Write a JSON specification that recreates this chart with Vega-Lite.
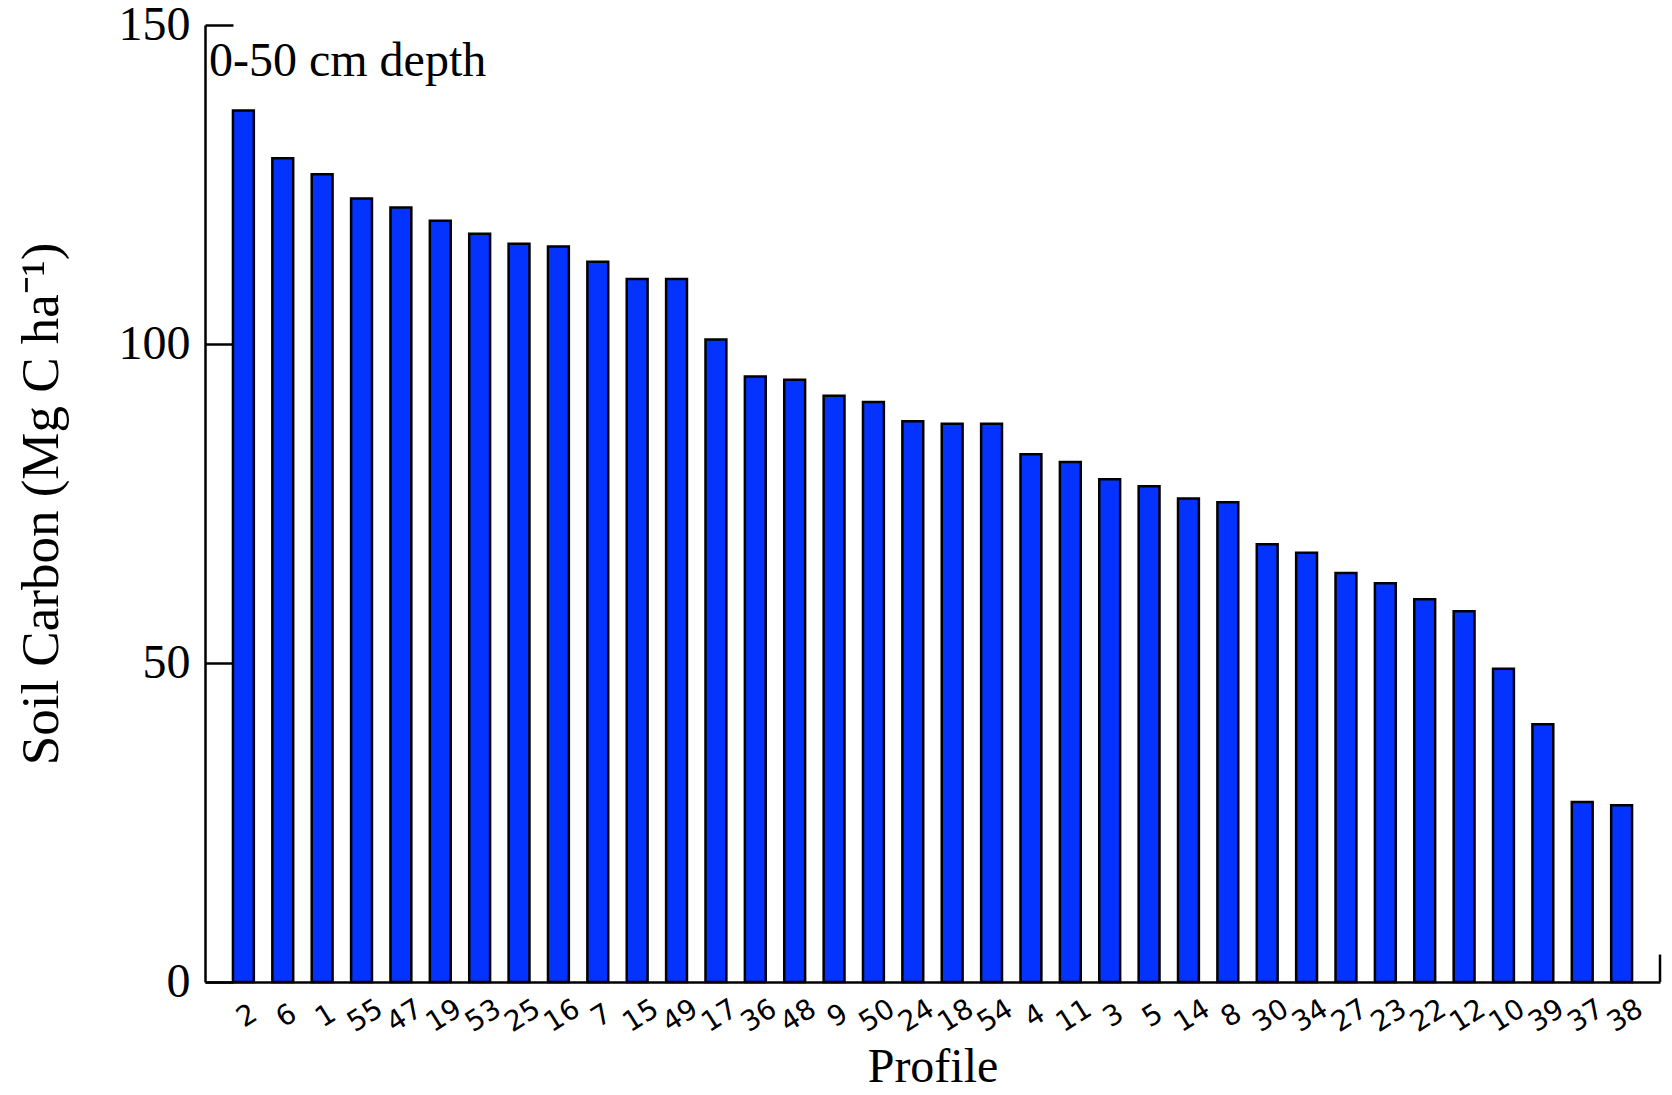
{
  "$schema": "https://vega.github.io/schema/vega-lite/v6.json",
  "autosize": {"type": "none"},
  "width": 1455,
  "height": 957,
  "padding": {"left": 205, "top": 25, "right": 12, "bottom": 113},
  "background": "white",
  "config": {
    "view": {"stroke": null},
    "axis": {"grid": false, "domainColor": "black", "domainWidth": 2.5}
  },
  "datasets": {
    "soil": [
      {"profile": "2", "carbon": 136.6},
      {"profile": "6", "carbon": 129.1},
      {"profile": "1", "carbon": 126.6},
      {"profile": "55", "carbon": 122.8},
      {"profile": "47", "carbon": 121.4},
      {"profile": "19", "carbon": 119.3},
      {"profile": "53", "carbon": 117.3},
      {"profile": "25", "carbon": 115.7},
      {"profile": "16", "carbon": 115.3},
      {"profile": "7", "carbon": 112.9},
      {"profile": "15", "carbon": 110.2},
      {"profile": "49", "carbon": 110.2},
      {"profile": "17", "carbon": 100.7},
      {"profile": "36", "carbon": 94.9},
      {"profile": "48", "carbon": 94.4},
      {"profile": "9", "carbon": 91.9},
      {"profile": "50", "carbon": 90.9},
      {"profile": "24", "carbon": 87.9},
      {"profile": "18", "carbon": 87.5},
      {"profile": "54", "carbon": 87.5},
      {"profile": "4", "carbon": 82.7},
      {"profile": "11", "carbon": 81.5},
      {"profile": "3", "carbon": 78.8},
      {"profile": "5", "carbon": 77.7},
      {"profile": "14", "carbon": 75.8},
      {"profile": "8", "carbon": 75.2},
      {"profile": "30", "carbon": 68.6},
      {"profile": "34", "carbon": 67.3},
      {"profile": "27", "carbon": 64.1},
      {"profile": "23", "carbon": 62.5},
      {"profile": "22", "carbon": 60.0},
      {"profile": "12", "carbon": 58.1},
      {"profile": "10", "carbon": 49.1},
      {"profile": "39", "carbon": 40.4},
      {"profile": "37", "carbon": 28.2},
      {"profile": "38", "carbon": 27.7}
    ],
    "note": [{"label": "0-50 cm depth"}]
  },
  "layer": [
    {
      "data": {"name": "soil"},
      "mark": {"type": "bar", "fill": "#0433FF", "stroke": "black", "strokeWidth": 2.5},
      "encoding": {
        "x": {
          "field": "profile",
          "type": "nominal",
          "sort": null,
          "scale": {"paddingInner": 0.47, "paddingOuter": 0.71},
          "axis": {
            "title": "Profile",
            "titleFont": "Liberation Serif",
            "titleFontSize": 48,
            "titleFontWeight": "normal",
            "titleColor": "black",
            "titleBaseline": "alphabetic",
            "titleY": 99,
            "ticks": false,
            "labelAngle": -32,
            "labelAlign": "center",
            "labelBaseline": "middle",
            "labelPadding": 34,
            "labelOffset": 4,
            "labelFont": "DejaVu Sans",
            "labelFontSize": 28,
            "labelColor": "black"
          }
        },
        "y": {
          "field": "carbon",
          "type": "quantitative",
          "scale": {"domain": [0, 150], "nice": false},
          "axis": {
            "title": "Soil Carbon (Mg C ha⁻¹)",
            "titleFont": "Liberation Serif",
            "titleFontSize": 53,
            "titleFontWeight": "normal",
            "titleColor": "black",
            "titleX": -164,
            "titleBaseline": "middle",
            "values": [0, 50, 100, 150],
            "tickSize": -28,
            "tickWidth": 2.5,
            "tickColor": "black",
            "labelPadding": 43,
            "labelFont": "Liberation Serif",
            "labelFontSize": 48,
            "labelColor": "black"
          }
        }
      }
    },
    {
      "data": {"name": "note"},
      "mark": {"type": "text", "font": "Liberation Serif", "fontSize": 48, "align": "left", "baseline": "alphabetic", "dx": -24, "dy": 51},
      "encoding": {
        "text": {"field": "label", "type": "nominal"},
        "x": {"datum": "2", "type": "nominal", "bandPosition": 0},
        "y": {"datum": 150}
      }
    },
    {
      "data": {"name": "note"},
      "mark": {"type": "rule", "stroke": "black", "strokeWidth": 2.5},
      "encoding": {
        "x": {"value": {"expr": "width"}},
        "y": {"datum": 0},
        "y2": {"datum": 4.3}
      }
    }
  ]
}
